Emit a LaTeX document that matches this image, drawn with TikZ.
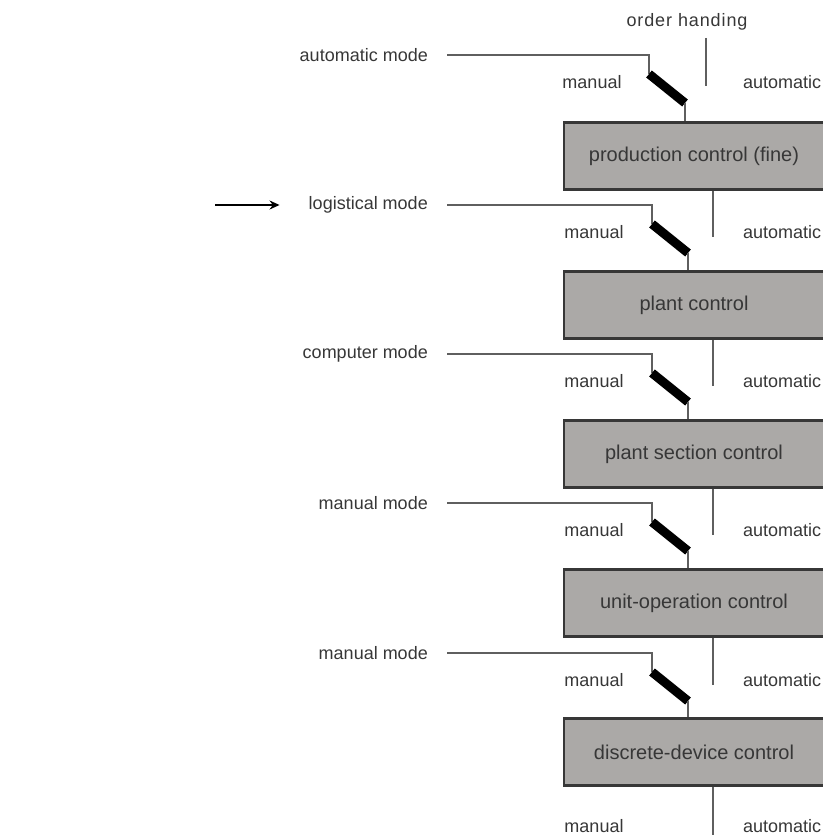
\documentclass[tikz,border=0pt]{standalone}
\usepackage{fontspec}
\setmainfont{Liberation Sans}
\usetikzlibrary{arrows.meta}
\definecolor{boxgray}{RGB}{171,169,167}
\definecolor{inkgray}{RGB}{55,55,55}
\definecolor{wiregray}{RGB}{95,95,95}

\begin{document}
\begin{tikzpicture}[x=1pt, y=-1pt, node distance=149pt,
  level/.style={draw=inkgray, line width=2.2pt, fill=boxgray, minimum width=260pt, minimum height=67pt, text=inkgray, font=\fontsize{20}{24}\selectfont},
  modelabel/.style={anchor=east, inner xsep=19pt, inner ysep=0pt, text=inkgray, font=\fontsize{18}{22}\selectfont},
  setting/.style={text=inkgray, inner sep=0pt, font=\fontsize{18}{22}\selectfont},
  wire/.style={wiregray, line width=1.3pt},
  switchbar/.style={black, line width=9pt}]
\useasboundingbox (0,0) rectangle (822,837);
\node (oh) [setting, font=\fontsize{18}{22}\selectfont\addfontfeature{LetterSpace=5}] at (687,22) {order handing};
\node[level] (b1) at (694,156) {production control (fine)};
\node[level] (b2) [below of = b1] {plant control};
\node[level] (b3) [below of = b2] {plant section control};
\node[level] (b4) [below of = b3] {unit-operation control};
\node[level] (b5) [below of = b4] {discrete-device control};
\node[modelabel] (m1) at (447,55) {automatic mode};
\node[modelabel] (m2) at (447,205) {logistical mode};
\node[modelabel] (m3) at (447,354) {computer mode};
\node[modelabel] (m4) at (447,503) {manual mode};
\node[modelabel] (m5) at (447,653) {manual mode};
\node[setting] (u1) at (592,82) {manual};
\node[setting] (u2) at (594,232) {manual};
\node[setting] (u3) at (594,381) {manual};
\node[setting] (u4) at (594,530) {manual};
\node[setting] (u5) at (594,680) {manual};
\node[setting] (u6) at (594,826) {manual};
\node[setting, anchor=west] (v1) at (743,82) {automatic};
\node[setting, anchor=west] (v2) at (743,232) {automatic};
\node[setting, anchor=west] (v3) at (743,381) {automatic};
\node[setting, anchor=west] (v4) at (743,530) {automatic};
\node[setting, anchor=west] (v5) at (743,680) {automatic};
\node[setting, anchor=west] (v6) at (743,826) {automatic};
\coordinate (k1) at (649,55);  \coordinate (s1) at (649,74);  \coordinate (e1) at (685,103);
\coordinate (k2) at (652,205); \coordinate (s2) at (652,224); \coordinate (e2) at (688,253);
\coordinate (k3) at (652,354); \coordinate (s3) at (652,373); \coordinate (e3) at (688,402);
\coordinate (k4) at (652,503); \coordinate (s4) at (652,522); \coordinate (e4) at (688,551);
\coordinate (k5) at (652,653); \coordinate (s5) at (652,672); \coordinate (e5) at (688,701);
\coordinate (t0) at (706,38);
\coordinate (t1) at (706,86);
\coordinate (t2) at (713,237);
\coordinate (t3) at (713,386);
\coordinate (t4) at (713,535);
\coordinate (t5) at (713,685);
\coordinate (t6) at (713,835);
\coordinate (a0) at (215,205);
\draw[wire] (m1) -- (k1) -- (s1);
\draw[switchbar] (s1) -- (e1);
\draw[wire] (e1) -- (e1 |- b1.north);
\draw[wire] (m2) -- (k2) -- (s2);
\draw[switchbar] (s2) -- (e2);
\draw[wire] (e2) -- (e2 |- b2.north);
\draw[wire] (m3) -- (k3) -- (s3);
\draw[switchbar] (s3) -- (e3);
\draw[wire] (e3) -- (e3 |- b3.north);
\draw[wire] (m4) -- (k4) -- (s4);
\draw[switchbar] (s4) -- (e4);
\draw[wire] (e4) -- (e4 |- b4.north);
\draw[wire] (m5) -- (k5) -- (s5);
\draw[switchbar] (s5) -- (e5);
\draw[wire] (e5) -- (e5 |- b5.north);
\draw[wire] (t0) -- (t1);
\draw[wire] (b1.south -| t2) -- (t2);
\draw[wire] (b2.south -| t3) -- (t3);
\draw[wire] (b3.south -| t4) -- (t4);
\draw[wire] (b4.south -| t5) -- (t5);
\draw[wire] (b5.south -| t6) -- (t6);
\draw[black, line width=1.8pt, -{Stealth[length=10pt,width=9pt]}] (a0) -- ([xshift=-10pt]m2.west);
\end{tikzpicture}
\end{document}
